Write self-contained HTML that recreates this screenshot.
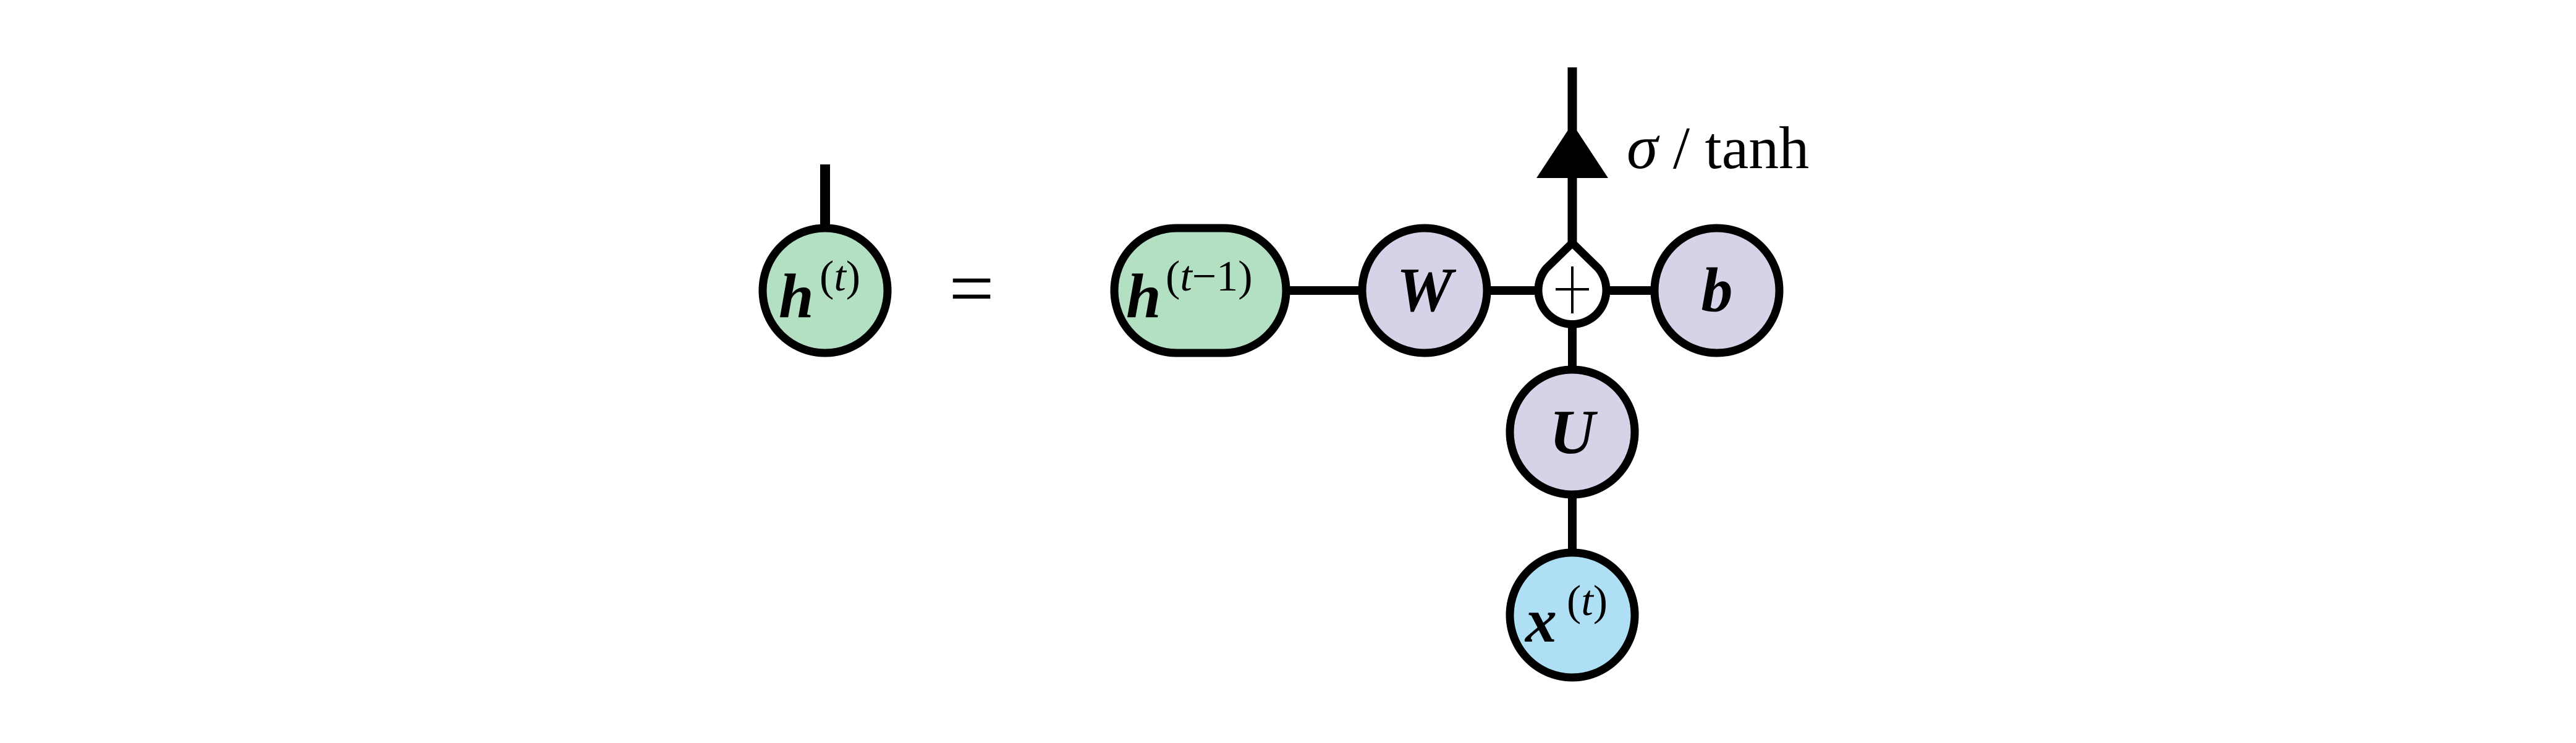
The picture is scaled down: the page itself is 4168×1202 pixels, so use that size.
<!DOCTYPE html>
<html><head><meta charset="utf-8"><style>
html,body{margin:0;padding:0;background:#fff;}
svg{display:block;}
.lbl{font-family:"Liberation Serif",serif;font-weight:bold;font-style:italic;font-size:102px;fill:#000;}
.sup{font-family:"Liberation Serif",serif;font-size:70px;fill:#000;}
.rm{font-family:"Liberation Serif",serif;font-size:98px;fill:#000;}
</style></head><body>
<svg width="4168" height="1202" viewBox="0 0 4168 1202">
<g stroke="#000" stroke-width="14" fill="none">
  <line x1="1335" y1="266" x2="1335" y2="370" stroke-width="16"/>
  <line x1="2085" y1="470" x2="2210" y2="470"/>
  <line x1="2400" y1="470" x2="2490" y2="470"/>
  <line x1="2598" y1="470" x2="2680" y2="470"/>
  <line x1="2544" y1="520" x2="2544" y2="600"/>
  <line x1="2544" y1="795" x2="2544" y2="895"/>
  <line x1="2544" y1="109" x2="2544" y2="395" stroke-width="15"/>
</g>
<polygon points="2544,200 2486,288 2602,288" fill="#000"/>
<text x="2632" y="272"><tspan class="lbl" style="font-weight:normal">σ</tspan><tspan class="rm"> / tanh</tspan></text>

<g>
  <circle cx="1335" cy="470" r="101" fill="#b3dfc3" stroke="#000" stroke-width="13"/>
  <text x="1260" y="513" class="lbl">h</text><text x="1326" y="470" class="sup">(<tspan font-style="italic">t</tspan>)</text>
</g>
<text x="1572" y="510" text-anchor="middle" class="rm" style="font-size:130px">=</text>

<g>
  <rect x="1803" y="369" width="278" height="202" rx="101" ry="101" fill="#b3dfc3" stroke="#000" stroke-width="13"/>
  <text x="1822" y="513" class="lbl">h</text><text x="1886" y="470" class="sup">(<tspan font-style="italic">t</tspan>−1)</text>
</g>
<g>
  <circle cx="2305" cy="470" r="101" fill="#d5d3e8" stroke="#000" stroke-width="13"/>
  <text x="2305" y="503" text-anchor="middle" class="lbl">W</text>
</g>
<g>
  <path d="M2544,393 L2586,434 A55,55 0 1 1 2502,434 Z" fill="#fff" stroke="#000" stroke-width="13" stroke-linejoin="round"/>
  <line x1="2517" y1="468" x2="2571" y2="468" stroke="#000" stroke-width="4"/>
  <line x1="2544" y1="431" x2="2544" y2="507" stroke="#000" stroke-width="4"/>
</g>
<g>
  <circle cx="2778" cy="470" r="101" fill="#d5d3e8" stroke="#000" stroke-width="13"/>
  <text x="2778" y="503" text-anchor="middle" class="lbl">b</text>
</g>
<g>
  <circle cx="2544" cy="699" r="101" fill="#d5d3e8" stroke="#000" stroke-width="13"/>
  <text x="2544" y="733" text-anchor="middle" class="lbl">U</text>
</g>
<g>
  <circle cx="2544" cy="995" r="101" fill="#aedff5" stroke="#000" stroke-width="13"/>
  <text x="2468" y="1038" class="lbl">x</text><text x="2535" y="995" class="sup">(<tspan font-style="italic">t</tspan>)</text>
</g>
</svg>
</body></html>
